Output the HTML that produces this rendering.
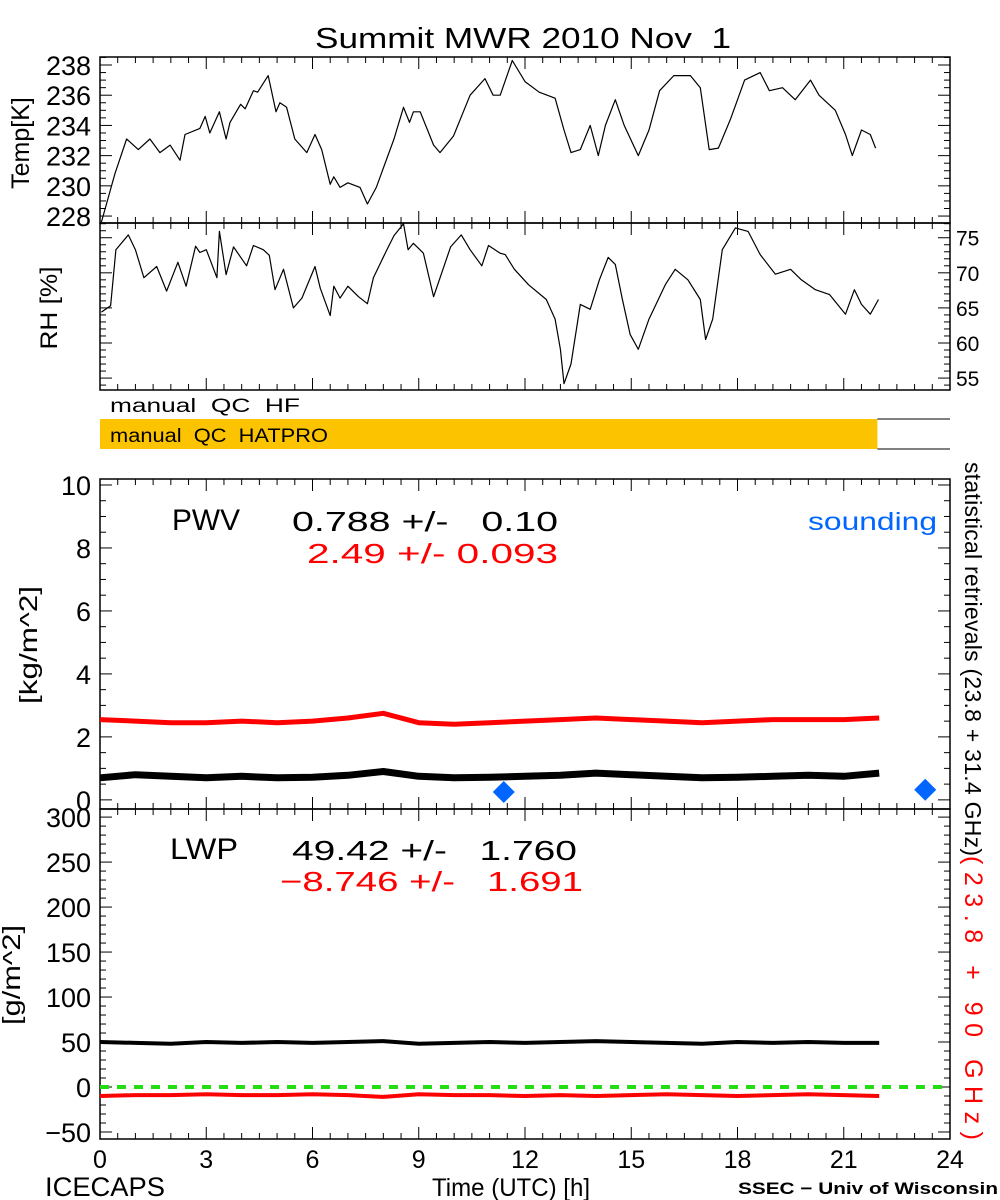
<!DOCTYPE html>
<html><head><meta charset="utf-8"><style>
html,body{margin:0;padding:0;background:#fff;}
svg{display:block;font-family:"Liberation Sans",sans-serif;}
text{white-space:pre;}
</style></head><body>
<svg id="chart" width="1000" height="1200" xmlns="http://www.w3.org/2000/svg"></svg>
<script>
// ---- data ----
const tempHours=[0.04,0.42,0.75,1.08,1.41,1.69,1.98,2.26,2.4,2.82,2.97,3.1,3.37,3.56,3.67,3.97,4.1,4.33,4.45,4.75,4.97,5.08,5.27,5.5,5.84,6.07,6.26,6.5,6.6,6.78,7.0,7.34,7.55,7.8,8.3,8.57,8.74,8.85,9.04,9.42,9.6,9.98,10.45,10.87,11.1,11.3,11.64,12.0,12.4,12.85,13.1,13.3,13.56,13.84,14.07,14.27,14.55,14.8,15.2,15.5,15.8,16.2,16.67,16.95,17.2,17.46,17.8,18.2,18.64,18.9,19.27,19.63,20.06,20.3,20.76,21.05,21.24,21.5,21.75,21.9];
const tempVals=[227.6,230.8,233.1,232.4,233.1,232.2,232.7,231.7,233.4,233.8,234.6,233.5,234.9,233.1,234.2,235.4,235.1,236.3,236.2,237.3,234.9,235.5,235.2,233.1,232.2,233.4,232.4,230.1,230.6,229.9,230.2,229.9,228.8,229.9,233.1,235.2,234.2,234.9,234.9,232.7,232.2,233.3,236.0,237.1,236.0,236.0,238.3,236.9,236.2,235.8,233.7,232.2,232.4,234.0,232.0,234.0,235.7,234.0,232.0,233.7,236.3,237.3,237.3,236.5,232.4,232.5,234.4,237.0,237.5,236.3,236.5,235.7,237.0,236.0,235.0,233.4,232.0,233.7,233.4,232.5];
const rhHours=[0.04,0.3,0.45,0.8,1.0,1.24,1.6,1.88,2.2,2.43,2.7,2.82,3.0,3.3,3.37,3.56,3.77,4.14,4.33,4.61,4.78,4.94,5.18,5.46,5.7,6.07,6.22,6.5,6.6,6.78,7.0,7.3,7.55,7.72,8.1,8.3,8.57,8.7,8.85,9.13,9.42,9.9,10.2,10.45,10.78,10.97,11.3,11.44,11.7,12.1,12.6,12.85,13.0,13.1,13.3,13.56,13.84,14.1,14.35,14.55,14.75,14.97,15.2,15.5,15.96,16.24,16.6,16.95,17.1,17.3,17.57,17.94,18.3,18.64,19.07,19.5,19.8,20.2,20.6,21.05,21.3,21.5,21.75,21.98];
const rhVals=[64.4,65.3,73.3,75.4,73.3,69.3,70.9,67.4,71.5,68.1,73.8,72.9,73.3,69.3,75.9,69.75,73.7,71.0,73.9,73.3,72.5,67.6,70.5,65.0,66.4,70.9,67.8,63.9,68.1,66.4,68.1,66.6,65.6,69.3,73.3,75.3,77.0,73.3,74.2,72.8,66.6,73.7,75.4,73.3,71.0,73.9,72.8,72.6,70.5,68.3,66.2,63.4,59.1,54.2,57.0,65.5,64.8,69.0,72.2,71.2,66.2,61.2,59.1,63.4,68.3,70.5,69.0,66.2,60.5,63.4,73.3,76.4,75.9,72.6,69.8,70.5,69.0,67.6,66.9,64.1,67.6,65.5,64.1,66.2];
const retHours=[0,1,2,3,4,5,6,7,8,9,10,11,12,13,14,15,16,17,18,19,20,21,22];
const pwvBlack=[0.7,0.8,0.75,0.7,0.75,0.7,0.72,0.78,0.9,0.75,0.7,0.72,0.75,0.78,0.85,0.8,0.75,0.7,0.72,0.75,0.78,0.75,0.85];
const pwvRed=[2.55,2.5,2.45,2.45,2.5,2.45,2.5,2.6,2.75,2.45,2.4,2.45,2.5,2.55,2.6,2.55,2.5,2.45,2.5,2.55,2.55,2.55,2.6];
const lwpBlack=[50,49,48,50,49,50,49,50,51,48,49,50,49,50,51,50,49,48,50,49,50,49,49];
const lwpRed=[-10,-9,-9,-8,-9,-9,-8,-9,-11,-8,-9,-9,-10,-9,-10,-9,-8,-9,-10,-9,-8,-9,-10];
const soundHours=[11.4,23.3];
const soundPwv=[0.25,0.32];
const xTicks=[0,3,6,9,12,15,18,21,24];
const tempTicks=[228,230,232,234,236,238];
const rhTicks=[55,60,65,70,75];
const pwvTicks=[0,2,4,6,8,10];
const lwpTicks=[-50,0,50,100,150,200,250,300];

// ---- geometry ----
const NS='http://www.w3.org/2000/svg';
const svg=document.getElementById('chart');
const X0=100,X1=950;
const xs=h=>X0+(X1-X0)*h/24;
function lin(d0,d1,p0,p1){return v=>p0+(v-d0)*(p1-p0)/(d1-d0);}
const yT=lin(227.54,238.53,223,57);
const yR=lin(53.3,77.1,390,223);
const yP=lin(-0.29,10.19,809,479);
const yL=lin(-57.8,309,1139,809);
function el(tag,attrs,parent){const e=document.createElementNS(NS,tag);for(const k in attrs)e.setAttribute(k,attrs[k]);(parent||svg).appendChild(e);return e;}
function txt(s,x,y,size,fill,anchor,parent,extra){const t=el('text',Object.assign({x:x,y:y,'font-size':size,fill:fill||'#000','text-anchor':anchor||'start'},extra||{}),parent);t.textContent=s;return t;}
function fit(len){return {textLength:len,lengthAdjust:'spacingAndGlyphs'};}

function panel(name,top,bot,ys,ticks,minorStep,side){
  const g=el('g',{});
  
  
  el('rect',{x:X0,y:top,width:X1-X0,height:bot-top,fill:'none',stroke:'#000','stroke-width':1.5},g);
  for(let h=0;h<=24.001;h+=0.5){
    const big=Math.abs(h%3)<0.01;const L=big?12:6;const x=xs(h);
    el('line',{x1:x,y1:bot,x2:x,y2:bot-L,stroke:'#000'},g);
    el('line',{x1:x,y1:top,x2:x,y2:top+L,stroke:'#000'},g);
  }
  const lo=ticks[0],hi=ticks[ticks.length-1];
  for(let v=lo-minorStep*4;v<=hi+minorStep*4+1e-6;v+=minorStep){
    const y=ys(v);if(y<top-0.5||y>bot+0.5)continue;
    const big=ticks.some(t=>Math.abs(t-v)<1e-6);const L=big?12:6;
    el('line',{x1:X0,y1:y,x2:X0+L,y2:y,stroke:'#000'},g);
    el('line',{x1:X1,y1:y,x2:X1-L,y2:y,stroke:'#000'},g);
  }
  ticks.forEach(t=>{
    if(side==='left')txt(String(t).replace('-','\u2212'),91,ys(t)+10,27,'#000','end',g);
    else if(side==='right')txt(String(t),956,ys(t)+8,21,'#000','start',g);
  });
  return g;
}
function line(hours,vals,ys,color,w,name){
  const p=el('polyline',{points:hours.map((h,i)=>xs(h).toFixed(1)+','+ys(vals[i]).toFixed(1)).join(' '),fill:'none',stroke:color,'stroke-width':w,'stroke-linejoin':'round'});
  
  
}

// title
const title=txt('Summit MWR 2010 Nov  1',315,48,29,'#000','start',null,fit(416));



// temp panel
panel('temp-panel',57,223,yT,tempTicks,0.5,'left');
line(tempHours,tempVals,yT,'#000',1.2,'temp-line');
const tl=txt('Temp[K]',0,0,25,'#000','middle',null,{transform:'translate(29,143) rotate(-90)'});



// RH panel
panel('rh-panel',223,390,yR,rhTicks,1,'right');
line(rhHours,rhVals,yR,'#000',1.2,'rh-line');
const rl=txt('RH [%]',0,0,24,'#000','middle',null,Object.assign({transform:'translate(57,308) rotate(-90)'},fit(83)));



// QC bars
const hf=txt('manual  QC  HF',110,412,19,'#000','start',null,fit(190));


const hb=el('rect',{x:X0,y:419,width:xs(21.95)-X0,height:30,fill:'#fcc300'});


el('line',{x1:xs(21.95),y1:419,x2:X1,y2:419,stroke:'#000'});
el('line',{x1:xs(21.95),y1:449,x2:X1,y2:449,stroke:'#000'});
const hl=txt('manual  QC  HATPRO',110,442,19,'#000','start',null,fit(218));



// PWV panel
panel('pwv-panel',479,809,yP,pwvTicks,0.5,'left');
line(retHours,pwvRed,yP,'#ff0000',5,'pwv-red-line');
line(retHours,pwvBlack,yP,'#000',7,'pwv-black-line');
soundHours.forEach((h,i)=>{
  const x=xs(h),y=yP(soundPwv[i]);
  const d=el('polygon',{points:`${x},${y-11} ${x+11},${y} ${x},${y+11} ${x-11},${y}`,fill:'#0066ff'});
  
  
});
const pl=txt('[kg/m^2]',0,0,25,'#000','middle',null,Object.assign({transform:'translate(37,645) rotate(-90)'},fit(118)));


let t;
t=txt('PWV',172,530,30,'#000','start',null,fit(68));
t=txt('0.788 +/-   0.10',292,531,28,'#000','start',null,fit(266));
t=txt('2.49 +/- 0.093',307,563,28,'#ff0000','start',null,fit(251));
t=txt('sounding',808,530,25,'#0066ff','start',null,fit(129));

// LWP panel
panel('lwp-panel',809,1139,yL,lwpTicks,10,'left');
const zl=el('line',{x1:X0,y1:yL(0),x2:X1,y2:yL(0),stroke:'#22dd11','stroke-width':4,'stroke-dasharray':'9,8'});


line(retHours,lwpRed,yL,'#ff0000',4,'lwp-red-line');
line(retHours,lwpBlack,yL,'#000',4,'lwp-black-line');
const ll=txt('[g/m^2]',0,0,25,'#000','middle',null,Object.assign({transform:'translate(20,975) rotate(-90)'},fit(100)));


t=txt('LWP',170,859,30,'#000','start',null,fit(68));
t=txt('49.42 +/-   1.760',292,860,28,'#000','start',null,fit(285));
t=txt('\u22128.746 +/-   1.691',280,891,28,'#ff0000','start',null,fit(303));

// x tick labels
xTicks.forEach(h=>{
  const l=txt(String(h),xs(h),1168,25,'#000','middle');
  
  
});
t=txt('ICECAPS',45,1196,27,'#000','start',null,fit(120));
t=txt('Time (UTC) [h]',432,1196,25,'#000','start',null,fit(158));
t=txt('SSEC \u2212 Univ of Wisconsin',738,1194,17,'#000','start',null,Object.assign({'font-weight':'bold'},fit(260)));

// right rotated labels
const rb=el('text',{x:0,y:0,transform:'translate(965,462) rotate(90)','font-size':23,fill:'#000',textLength:394,lengthAdjust:'spacing'});
rb.textContent='statistical retrievals (23.8 + 31.4 GHz)';


const rr=el('text',{x:0,y:0,transform:'translate(965,856) rotate(90)','font-size':25,fill:'#ff0000',textLength:284,lengthAdjust:'spacing'});
rr.textContent='(23.8 + 90 GHz)';


</script>
</body></html>
